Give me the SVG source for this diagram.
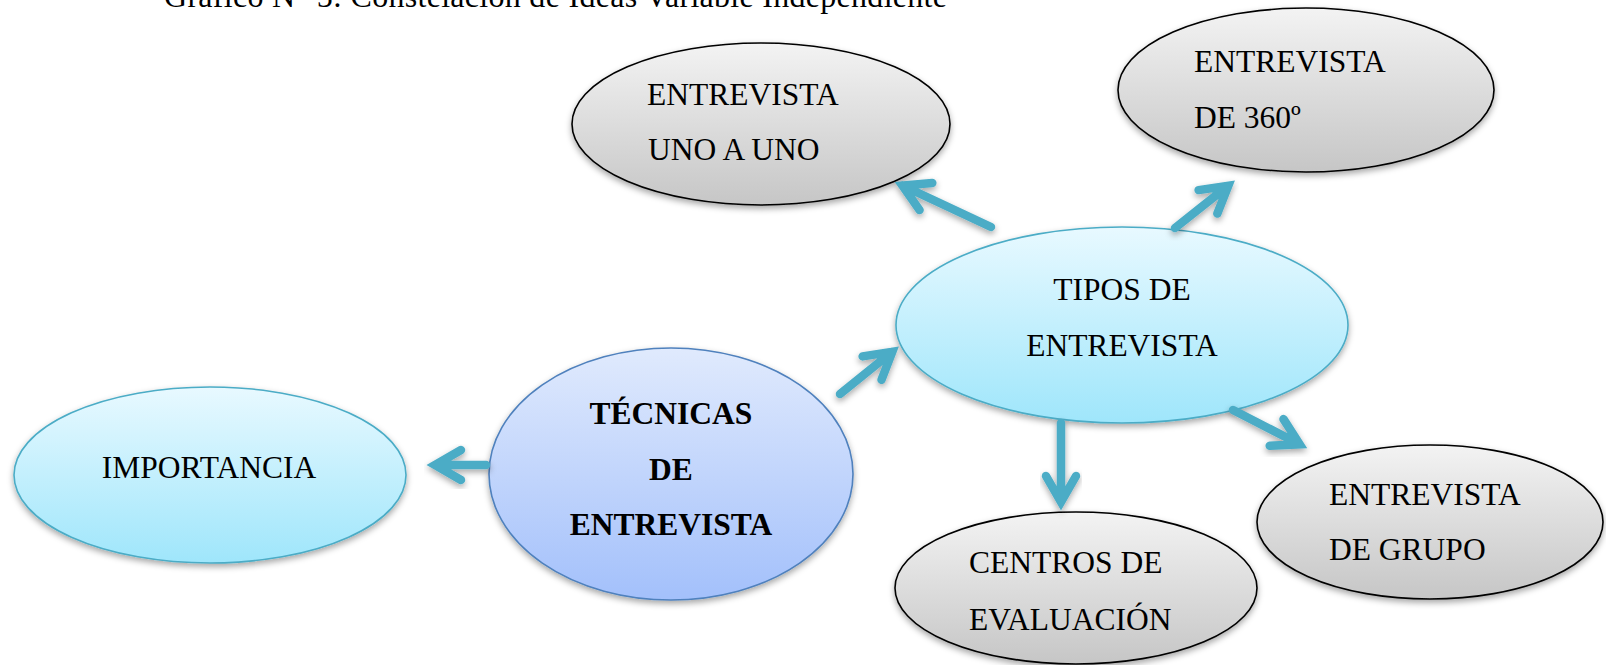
<svg xmlns="http://www.w3.org/2000/svg" width="1606" height="665" viewBox="0 0 1606 665">
<defs>
<linearGradient id="gGray" x1="0" y1="0" x2="0" y2="1">
<stop offset="0" stop-color="#f3f3f3"/><stop offset="1" stop-color="#c6c6c6"/>
</linearGradient>
<linearGradient id="gCyan" x1="0" y1="0" x2="0" y2="1">
<stop offset="0" stop-color="#e8f9ff"/><stop offset="1" stop-color="#9fe6fb"/>
</linearGradient>
<linearGradient id="gBlue" x1="0" y1="0" x2="0" y2="1">
<stop offset="0" stop-color="#e0eafd"/><stop offset="1" stop-color="#a3c0fb"/>
</linearGradient>
<filter id="shadow" x="-20%" y="-20%" width="140%" height="150%">
<feDropShadow dx="0" dy="3" stdDeviation="3" flood-color="#000" flood-opacity="0.35"/>
</filter>
</defs>
<style>
.gray{fill:url(#gGray);stroke:#000;stroke-width:1.6;filter:url(#shadow)}
.cyan{fill:url(#gCyan);stroke:#4bacc6;stroke-width:1.6;filter:url(#shadow)}
.blue{fill:url(#gBlue);stroke:#4f81bd;stroke-width:1.6;filter:url(#shadow)}
text{font-family:"Liberation Serif","Times New Roman",serif;font-size:31.5px;fill:#000}
.c{text-anchor:middle}
.b{font-weight:bold}
.arrow{fill:none;stroke:#4bacc6;stroke-width:8.5;stroke-linecap:round;stroke-linejoin:miter;stroke-miterlimit:4;filter:url(#shadow)}
.cap{font-size:32px}
</style>
<rect width="1606" height="665" fill="#fff"/>
<text class="cap" x="164" y="7" textLength="783" lengthAdjust="spacing">Gráfico N° 5:  Constelación de Ideas Variable Independiente</text>

<g id="node-uno">
<ellipse class="gray" cx="761" cy="124" rx="189" ry="81"/>
<text x="647" y="105">ENTREVISTA</text>
<text x="648" y="160">UNO A UNO</text>
</g>
<g id="node-360">
<ellipse class="gray" cx="1306" cy="90" rx="188" ry="82"/>
<text x="1194" y="72">ENTREVISTA</text>
<text x="1194" y="128">DE 360º</text>
</g>
<g id="node-tipos">
<ellipse class="cyan" cx="1122" cy="325" rx="226" ry="98"/>
<text class="c" x="1122" y="300">TIPOS DE</text>
<text class="c" x="1122" y="356">ENTREVISTA</text>
</g>
<g id="node-importancia">
<ellipse class="cyan" cx="210" cy="475" rx="196" ry="88"/>
<text class="c" x="209" y="478">IMPORTANCIA</text>
</g>
<g id="node-tecnicas">
<ellipse class="blue" cx="671" cy="474" rx="182" ry="126"/>
<text class="c b" x="671" y="424">TÉCNICAS</text>
<text class="c b" x="671" y="480">DE</text>
<text class="c b" x="671" y="535">ENTREVISTA</text>
</g>
<g id="node-centros">
<ellipse class="gray" cx="1076" cy="588" rx="181" ry="76"/>
<text x="969" y="573">CENTROS DE</text>
<text x="969" y="630">EVALUACIÓN</text>
</g>
<g id="node-grupo">
<ellipse class="gray" cx="1430" cy="522" rx="173" ry="77"/>
<text x="1329" y="505">ENTREVISTA</text>
<text x="1329" y="560">DE GRUPO</text>
</g>

<g id="connectors">
<path class="arrow" d="M486,465 L435,465 M461,450 L435,465 L461,480"/>
<path class="arrow" d="M840,394 L892.3,351.8 M862.6,356.4 L892.3,351.8 L881.5,379.8"/>
<path class="arrow" d="M991,227 L902.4,185.5 M919.6,210.1 L902.4,185.5 L932.3,182.9"/>
<path class="arrow" d="M1175,228 L1228.3,185.7 M1198.6,190.1 L1228.3,185.7 L1217.3,213.6"/>
<path class="arrow" d="M1061,423 L1061,502 M1076,476 L1061,502 L1046,476"/>
<path class="arrow" d="M1233,410 L1299.7,444.3 M1283.5,419.1 L1299.7,444.3 L1269.7,445.8"/>
</g>
</svg>
